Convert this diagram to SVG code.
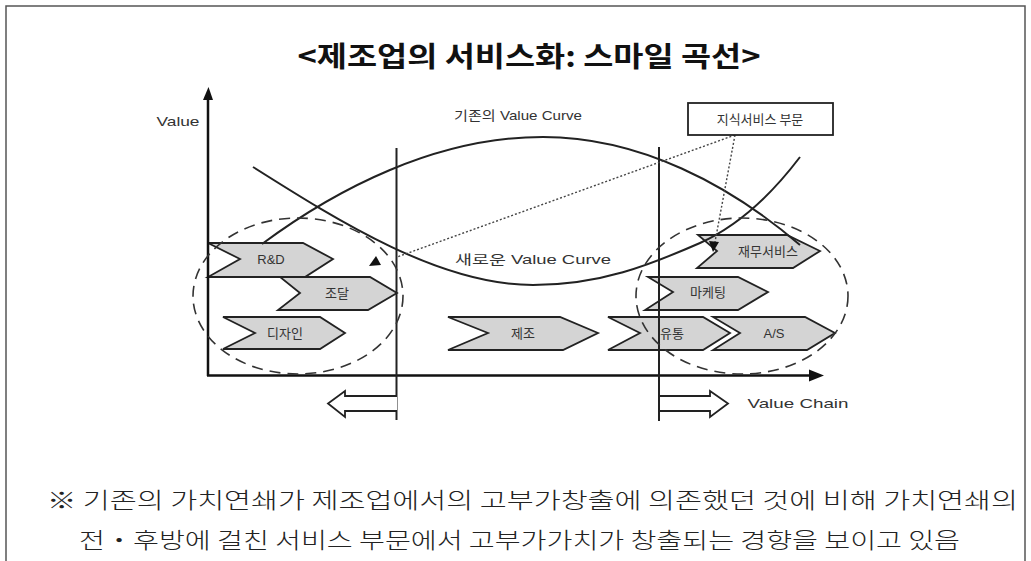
<svg xmlns="http://www.w3.org/2000/svg" width="1031" height="561" viewBox="0 0 1031 561">
<style>
.frame{fill:none;stroke:#555;stroke-width:1.5}
.ax{stroke:#111;stroke-width:2.5;fill:none}
.vl{stroke:#222;stroke-width:2;fill:none}
.curve{fill:none;stroke:#222;stroke-width:2}
.ell{fill:none;stroke:#333;stroke-width:1.6;stroke-dasharray:11 7}
.dot{fill:none;stroke:#444;stroke-width:1.4;stroke-dasharray:2 2}
.chev{fill:#d4d4d4;stroke:#222;stroke-width:1.8}
.harrow{fill:#fff;stroke:#222;stroke-width:1.8}
.lbl{font-family:"Liberation Sans","Noto Sans CJK KR",sans-serif;font-size:13px;fill:#333}
.kl{font-family:"Noto Sans CJK KR",sans-serif;font-size:13px;fill:#333}
.title{font-family:"Noto Sans CJK KR",sans-serif;font-size:28px;font-weight:700;fill:#111}
.note{font-family:"Noto Sans CJK KR",sans-serif;font-size:22px;font-weight:300;fill:#222}
</style>
<path class="frame" d="M6,600 L6,6 L1025,6 L1025,600"/>
<text class="title" x="529" y="67" text-anchor="middle" textLength="463" lengthAdjust="spacingAndGlyphs">&lt;제조업의 서비스화: 스마일 곡선&gt;</text>

<g id="chevrons">
<g id="rnd"><polygon class="chev" points="208,243 303,243 333,259 305,277 208,277 240,259"/><text class="lbl" x="271" y="264" text-anchor="middle">R&amp;D</text></g>
<g id="jodal"><polygon class="chev" points="280,277 370,277 397,293 368,310 278,310 300,293"/><text class="kl" x="337" y="298" text-anchor="middle">조달</text></g>
<g id="design"><polygon class="chev" points="223,317 320,317 345,333 320,349 223,349 255,333"/><text class="kl" x="285" y="338" text-anchor="middle">디자인</text></g>
<g id="jejo"><polygon class="chev" points="448,317 560,317 598,333 563,350 448,350 488,333"/><text class="kl" x="523" y="338" text-anchor="middle">제조</text></g>
<g id="yutong"><polygon class="chev" points="608,317 703,317 730,333 703,350 608,350 640,333"/><text class="kl" x="672" y="338" text-anchor="middle">유통</text></g>
<g id="as"><polygon class="chev" points="713,317 805,317 835,333 807,350 713,350 740,333"/><text class="lbl" x="774" y="338" text-anchor="middle">A/S</text></g>
<g id="marketing"><polygon class="chev" points="648,277 738,277 768,292 738,310 645,310 673,292"/><text class="kl" x="708" y="297" text-anchor="middle">마케팅</text></g>
<g id="finance"><polygon class="chev" points="698,235 787,235 820,251 793,268 697,268 717,251"/><text class="kl" x="768" y="256" text-anchor="middle">재무서비스</text></g>
</g>

<g id="connectors">
<line class="ax" x1="208" y1="376" x2="208" y2="98"/>
<polygon points="203,100 213,100 208.5,87" fill="#111"/>
<line class="ax" x1="207" y1="375.5" x2="812" y2="375.5"/>
<polygon points="809,369.5 809,381.5 824,375.5" fill="#111"/>
<line class="vl" x1="396.5" y1="148" x2="396.5" y2="420"/>
<line class="vl" x1="659" y1="147" x2="659" y2="421"/>
<path class="curve" d="M262,244 C335,190 435,137 543,137 C640,137 730,185 800,245"/>
<path class="curve" d="M253,167 C340,222 440,285 533,285 C600,285 650,265 700,243 C740,225 775,190 800,157"/>
<ellipse class="ell" cx="298" cy="296" rx="105" ry="78"/>
<ellipse class="ell" cx="742" cy="296" rx="106" ry="78"/>
<line class="dot" x1="735" y1="135" x2="397" y2="257"/>
<line class="dot" x1="735" y1="135" x2="715" y2="242"/>
<polygon points="369,266 381,265 376,256" fill="#111"/>
<polygon points="709,241 719,242 713,252" fill="#111"/>
<path class="harrow" d="M397,396 L345,396 L345,391 L328,403.5 L345,417 L345,411 L397,411"/>
<path class="harrow" d="M660,396 L710,396 L710,391 L728,403.5 L710,417 L710,411 L660,411"/>
</g>

<g id="labels">
<text class="lbl" x="178" y="126" text-anchor="middle" font-size="12" textLength="43" lengthAdjust="spacingAndGlyphs">Value</text>
<text class="lbl" x="518" y="120" text-anchor="middle" textLength="128" lengthAdjust="spacingAndGlyphs">기존의 Value Curve</text>
<text class="lbl" x="533" y="264" text-anchor="middle" textLength="156" lengthAdjust="spacingAndGlyphs">새로운 Value Curve</text>
<text class="lbl" x="798" y="408" text-anchor="middle" textLength="101" lengthAdjust="spacingAndGlyphs">Value Chain</text>
</g>

<g id="callout">
<rect x="688" y="103" width="145" height="32" fill="#fff" stroke="#222" stroke-width="1.8"/>
<text class="kl" x="760" y="124" text-anchor="middle" font-size="14">지식서비스 부문</text>
</g>

<g id="note">
<text class="note" x="47" y="508" textLength="971" lengthAdjust="spacingAndGlyphs">※ 기존의 가치연쇄가 제조업에서의 고부가창출에 의존했던 것에 비해 가치연쇄의</text>
<text class="note" x="79" y="548" textLength="881" lengthAdjust="spacingAndGlyphs">전・후방에 걸친 서비스 부문에서 고부가가치가 창출되는 경향을 보이고 있음</text>
</g>
</svg>
